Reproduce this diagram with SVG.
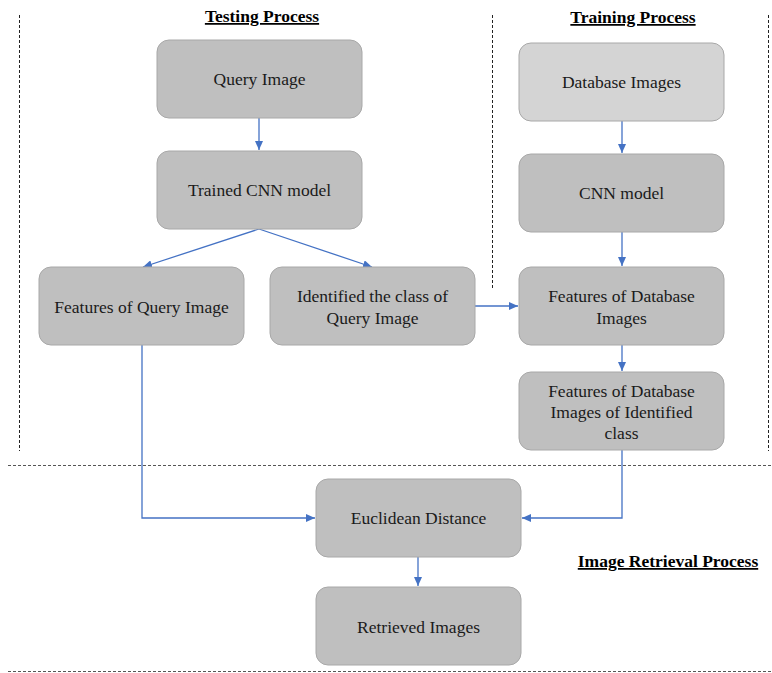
<svg xmlns="http://www.w3.org/2000/svg" width="772" height="673" viewBox="0 0 772 673">
<style>
.box{fill:#bfbfbf;stroke:#a8a8a8;stroke-width:1}
.light{fill:#d4d4d4}
.t{font-family:"Liberation Serif","Times New Roman",serif;font-size:17.5px;fill:#1a1a1a;text-anchor:middle}
.h{font-family:"Liberation Serif","Times New Roman",serif;font-size:17.5px;font-weight:bold;fill:#000;text-decoration:underline}
.dash{stroke:#222;stroke-width:1;stroke-dasharray:3,2;fill:none}
.dash2{stroke:#555;stroke-width:1.2;stroke-dasharray:3,2;fill:none}
.c{stroke:#4472c4;stroke-width:1.3;fill:none;marker-end:url(#a)}
</style>
<defs>
<marker id="a" markerWidth="10" markerHeight="8" refX="9" refY="4" orient="auto" markerUnits="userSpaceOnUse">
<path d="M0,0 L9,4 L0,8 z" fill="#4472c4"/>
</marker>
</defs>
<rect width="772" height="673" fill="#fff"/>
<g id="dividers">
<line class="dash" x1="19.5" y1="15" x2="19.5" y2="451"/>
<line class="dash" x1="492.5" y1="15" x2="492.5" y2="288"/>
<line class="dash" x1="768.5" y1="15" x2="768.5" y2="451"/>
<line class="dash2" x1="8" y1="465.5" x2="772" y2="465.5"/>
<line class="dash2" x1="8" y1="671.5" x2="772" y2="671.5"/>
</g>
<g id="titles">
<text class="h" x="262" y="22" text-anchor="middle">Testing Process</text>
<text class="h" x="633" y="23" text-anchor="middle">Training Process</text>
<text class="h" x="668" y="567" text-anchor="middle">Image Retrieval Process</text>
</g>
<g id="connectors">
<line class="c" x1="259" y1="118" x2="259" y2="150"/>
<line class="c" x1="259" y1="229" x2="143" y2="267"/>
<line class="c" x1="259" y1="229" x2="372" y2="267"/>
<line class="c" x1="475" y1="306" x2="518" y2="306"/>
<line class="c" x1="622" y1="121" x2="622" y2="153"/>
<line class="c" x1="622" y1="232" x2="622" y2="266"/>
<line class="c" x1="622" y1="345" x2="622" y2="371"/>
<polyline class="c" points="142,345 142,518 315,518"/>
<polyline class="c" points="622,450 622,518 522,518"/>
<line class="c" x1="418" y1="557" x2="418" y2="586"/>
</g>
<g id="query-image"><rect class="box" x="157" y="40" width="205" height="78" rx="12"/><text class="t" x="259.5" y="85">Query Image</text></g>
<g id="trained-cnn"><rect class="box" x="157" y="151" width="205" height="78" rx="12"/><text class="t" x="259.5" y="196">Trained CNN model</text></g>
<g id="database-images"><rect class="box light" x="519" y="43" width="205" height="78" rx="12"/><text class="t" x="621.5" y="88">Database Images</text></g>
<g id="cnn-model"><rect class="box" x="519" y="154" width="205" height="78" rx="12"/><text class="t" x="621.5" y="199">CNN model</text></g>
<g id="features-query"><rect class="box" x="39" y="267" width="205" height="78" rx="12"/><text class="t" x="141.5" y="313">Features of Query Image</text></g>
<g id="identified-class"><rect class="box" x="270" y="267" width="205" height="78" rx="12"/><text class="t" x="372.5" y="302">Identified the class of</text><text class="t" x="372.5" y="324">Query Image</text></g>
<g id="features-db"><rect class="box" x="519" y="267" width="205" height="78" rx="12"/><text class="t" x="621.5" y="302">Features of Database</text><text class="t" x="621.5" y="324">Images</text></g>
<g id="features-db-class"><rect class="box" x="519" y="372" width="205" height="78" rx="12"/><text class="t" x="621.5" y="397">Features of Database</text><text class="t" x="621.5" y="418">Images of Identified</text><text class="t" x="621.5" y="439">class</text></g>
<g id="euclidean"><rect class="box" x="316" y="479" width="205" height="78" rx="12"/><text class="t" x="418.5" y="524">Euclidean Distance</text></g>
<g id="retrieved"><rect class="box" x="316" y="587" width="205" height="78" rx="12"/><text class="t" x="418.5" y="633">Retrieved Images</text></g>
</svg>
